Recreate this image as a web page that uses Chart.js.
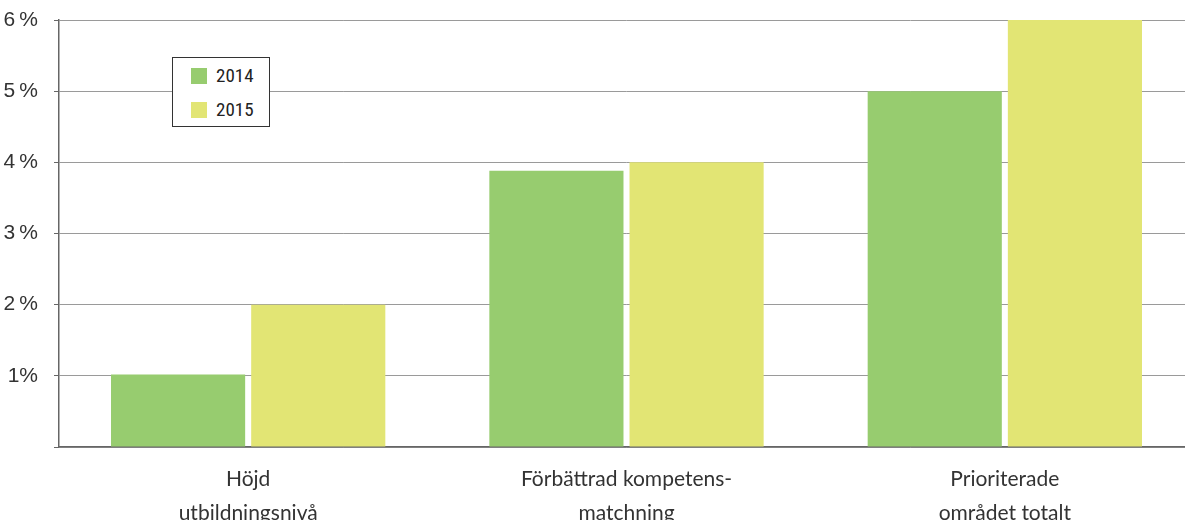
<!DOCTYPE html>
<html>
<head>
<meta charset="utf-8">
<script src="https://cdn.jsdelivr.net/npm/chart.js@4/dist/chart.umd.min.js"></script>
<style>
  body { margin: 0; background: #fff; overflow: hidden; }
  #wrap { position: relative; width: 1185px; height: 520px; overflow: hidden; }
  #legend {
    position: absolute; left: 172px; top: 57px; width: 96px; height: 68px;
    border: 1.5px solid #333; background: #fff;
    font-family: "Liberation Sans Narrow", "Roboto Condensed", sans-serif; font-size: 19px; color: #222;
  }
  #legend .item { position: absolute; left: 18px; height: 20px; line-height: 20px; }
  #legend .box { display: inline-block; width: 16px; height: 16px; vertical-align: -2px; margin-right: 9px; }
</style>
</head>
<body>
<div id="wrap">
  <canvas id="chart" width="1194" height="520"></canvas>
  <div id="legend"></div>
</div>
<script>
const categories = [['Höjd', 'utbildningsnivå'], ['Förbättrad kompetens-', 'matchning'], ['Prioriterade', 'området totalt']];
const seriesNames = ['2014', '2015'];
const values2014 = [1.02, 3.88, 5.0];
const values2015 = [2.0, 4.0, 6.0];
const yTickLabels = ['', '1%', '2\u202F%', '3\u202F%', '4\u202F%', '5\u202F%', '6\u202F%'];
const colors = ['#97cc6f', '#e2e574'];

const ctx = document.getElementById('chart');
Chart.defaults.animation = false;

new Chart(ctx, {
  type: 'bar',
  data: {
    labels: categories,
    datasets: [
      { label: seriesNames[0], data: values2014, backgroundColor: colors[0] },
      { label: seriesNames[1], data: values2015, backgroundColor: colors[1] }
    ]
  },
  options: {
    responsive: false,
    categoryPercentage: 0.741,
    barPercentage: 0.957,
    layout: { padding: { top: 20, right: 0, left: 0, bottom: 0 } },
    plugins: { legend: { display: false }, tooltip: { enabled: false } },
    scales: {
      x: {
        grid: { display: false },
        border: { color: '#666', width: 1.5 },
        ticks: {
          color: '#333',
          font: { family: 'Lato', size: 21, lineHeight: 1.62 },
          padding: 7,
          maxRotation: 0
        },
        afterFit: scale => { scale.height = 73; }
      },
      y: {
        min: 0,
        max: 6,
        border: { color: '#666', width: 1.5 },
        grid: { color: '#9a9a9a', lineWidth: 1, tickLength: 5, tickColor: '#666' },
        ticks: {
          stepSize: 1,
          color: '#333',
          font: { family: '"Liberation Sans Narrow", sans-serif', size: 21 },
          padding: 16,
          callback: (v) => yTickLabels[v]
        },
        afterFit: scale => {
          scale.width = 59;
          scale.paddingTop = 0;
          scale.paddingBottom = 0;
        }
      }
    }
  }
});

const legend = document.getElementById('legend');
legend.innerHTML = seriesNames.map((name, i) =>
  `<div class="item" style="top:${8 + i * 34}px"><span class="box" style="background:${colors[i]}"></span>${name}</div>`
).join('');
</script>
</body>
</html>
